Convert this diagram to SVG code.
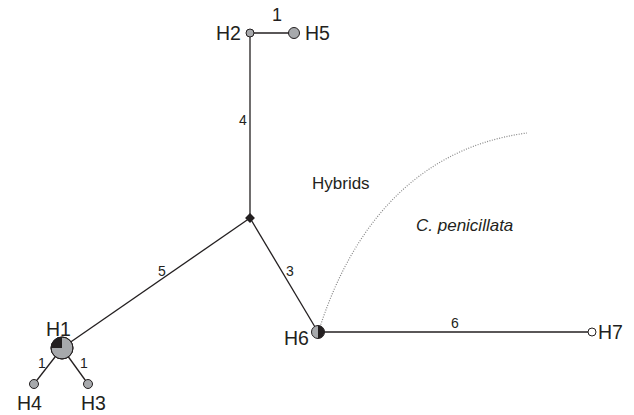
<svg xmlns="http://www.w3.org/2000/svg" width="634" height="415" viewBox="0 0 634 415">
<style>
.lbl{font-family:"Liberation Sans",Arial,sans-serif;font-size:19.5px;fill:#231f20}
.num{font-family:"Liberation Sans",Arial,sans-serif;font-size:14px;fill:#231f20;text-anchor:middle}
.txt{font-family:"Liberation Sans",Arial,sans-serif;font-size:17px;fill:#231f20}
.edge{stroke:#231f20;stroke-width:1.3;fill:none}
.node{stroke:#231f20;stroke-width:1}
</style>
<rect width="634" height="415" fill="#fff"/>
<g id="connectors">
<line class="edge" x1="250" y1="218" x2="250" y2="33"/>
<line class="edge" x1="250" y1="33" x2="294" y2="33"/>
<line class="edge" x1="250" y1="218" x2="62" y2="348"/>
<line class="edge" x1="250" y1="218" x2="318" y2="332"/>
<line class="edge" x1="318" y1="332" x2="592" y2="332"/>
<line class="edge" x1="62" y1="348" x2="34" y2="384"/>
<line class="edge" x1="62" y1="348" x2="88" y2="384"/>
<path d="M320,327 C345,250 400,150 527,133" fill="none" stroke="#888" stroke-width="1.2" stroke-dasharray="1,1.5"/>
<text class="num" x="277" y="21" style="font-size:18px">1</text>
<text class="num" x="243" y="125">4</text>
<text class="num" x="162" y="276">5</text>
<text class="num" x="290" y="276">3</text>
<text class="num" x="455" y="328">6</text>
<text class="num" x="42" y="368">1</text>
<text class="num" x="84" y="368">1</text>
</g>
<g id="diamond"><rect x="246.5" y="214.5" width="7" height="7" fill="#231f20" transform="rotate(45 250 218)"/></g>
<g id="H2"><circle class="node" cx="250" cy="33" r="4" fill="#a7a9ac"/><text class="lbl" x="216" y="40">H2</text></g>
<g id="H5"><circle class="node" cx="294" cy="33" r="5.5" fill="#a7a9ac"/><text class="lbl" x="305" y="40">H5</text></g>
<g id="H1">
<circle class="node" cx="62" cy="348" r="11" fill="#a7a9ac"/>
<path d="M62,348 L62,337 A11,11 0 0 0 51,348 Z" fill="#231f20"/>
<circle cx="62" cy="348" r="11" fill="none" stroke="#231f20" stroke-width="1"/>
<text class="lbl" x="46" y="336">H1</text></g>
<g id="H4"><circle class="node" cx="34" cy="384" r="4.5" fill="#a7a9ac"/><text class="lbl" x="17" y="410">H4</text></g>
<g id="H3"><circle class="node" cx="88" cy="384" r="4.5" fill="#a7a9ac"/><text class="lbl" x="81" y="410">H3</text></g>
<g id="H6">
<path d="M318,325.5 A6.5,6.5 0 0 0 318,338.5 Z" fill="#a7a9ac"/>
<path d="M318,325.5 A6.5,6.5 0 0 1 318,338.5 Z" fill="#231f20"/>
<circle cx="318" cy="332" r="6.5" fill="none" stroke="#231f20" stroke-width="1"/>
<text class="lbl" x="284" y="345">H6</text></g>
<g id="H7"><circle class="node" cx="592" cy="332" r="4" fill="#fff"/><text class="lbl" x="598" y="339">H7</text></g>
<text class="txt" x="312" y="189">Hybrids</text>
<text class="txt" x="416" y="231" font-style="italic">C. penicillata</text>
</svg>
